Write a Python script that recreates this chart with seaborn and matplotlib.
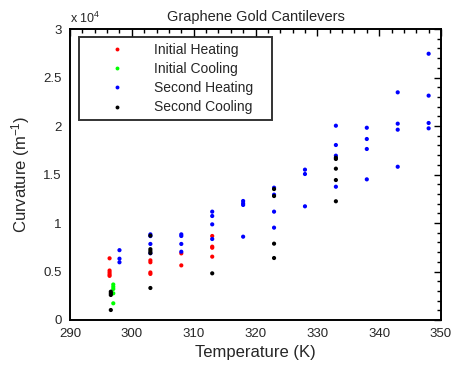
import numpy as np
import pandas as pd
import matplotlib
matplotlib.use("Agg")
import matplotlib.pyplot as plt
from matplotlib.lines import Line2D
from matplotlib.ticker import MultipleLocator, FuncFormatter
import seaborn as sns

# ---- data (curvature in m^-1) ----
series_names = ["Initial Heating", "Initial Cooling", "Second Heating", "Second Cooling"]
series_colors = ["#ff0000", "#00ff00", "#0000ff", "#000000"]

ih_temp = [296.4] * 5 + [303] * 4 + [308] * 2 + [313] * 4
ih_curv = [6360, 5100, 4900, 4700, 4550,
           6150, 5950, 4900, 4750,
           6870, 5630,
           8660, 7560, 7450, 6530]

ic_temp = [297] * 5
ic_curv = [3660, 3420, 3200, 2750, 1720]

sh_temp = ([298] * 3 + [303] * 4 + [308] * 4 + [313] * 4 + [318] * 4 + [323] * 4
           + [328] * 3 + [333] * 4 + [338] * 4 + [343] * 4 + [348] * 4)
sh_curv = [7200, 6320, 5950,
           8830, 8650, 7840, 6880,
           8830, 8660, 7840, 7040,
           11170, 10720, 9860, 8350,
           12270, 12030, 11860, 8590,
           13640, 12920, 11170, 9520,
           15500, 15050, 11720,
           20030, 18040, 16940, 13740,
           19820, 18660, 17630, 14500,
           23470, 20240, 19620, 15800,
           27450, 23130, 20310, 19760]

sc_temp = [296.6] * 4 + [303] * 5 + [313] + [323] * 4 + [333] * 5
sc_curv = [2920, 2750, 2580, 1030,
           8700, 7300, 7100, 6900, 3300,
           4810,
           13500, 12780, 7870, 6390,
           16730, 16600, 15600, 14430, 12240]

x_ticks = [290, 300, 310, 320, 330, 340, 350]
y_ticks = [0, 5000, 10000, 15000, 20000, 25000, 30000]

frames = []
for name, t, c in zip(series_names,
                      [ih_temp, ic_temp, sh_temp, sc_temp],
                      [ih_curv, ic_curv, sh_curv, sc_curv]):
    frames.append(pd.DataFrame({"Temperature": t, "Curvature": c, "Series": name}))
df = pd.concat(frames, ignore_index=True)

sns.set_style("white")
plt.rcParams["font.family"] = ["Liberation Sans", "DejaVu Sans"]
plt.rcParams["mathtext.fontset"] = "custom"
plt.rcParams["mathtext.rm"] = "Liberation Sans"
plt.rcParams["mathtext.it"] = "Liberation Sans:italic"
plt.rcParams["mathtext.bf"] = "Liberation Sans:bold"

fig = plt.figure(figsize=(4.53, 3.75), dpi=100)
ax = fig.add_axes([70 / 453, 1 - 320 / 375, 371 / 453, 291 / 375])

palette = dict(zip(series_names, series_colors))
sns.scatterplot(data=df, x="Temperature", y="Curvature", hue="Series",
                hue_order=series_names, palette=palette, s=9,
                edgecolor="none", linewidth=0, legend=False, ax=ax)

ax.set_xlim(290, 350)
ax.set_ylim(0, 30000)
ax.set_xticks(x_ticks)
ax.set_yticks(y_ticks)
ax.xaxis.set_minor_locator(MultipleLocator(2))
ax.yaxis.set_minor_locator(MultipleLocator(1000))
ax.yaxis.set_major_formatter(FuncFormatter(lambda v, p: "%g" % (v / 1e4)))

ax.tick_params(which="both", direction="in", top=True, right=True,
               color="black", labelsize=9.5, width=1.0)
ax.tick_params(which="major", length=5, pad=6)
ax.tick_params(which="minor", length=3)
for s in ax.spines.values():
    s.set_color("black")
    s.set_linewidth(1.4)

ax.set_xlabel("Temperature (K)", fontsize=12, labelpad=3)
ax.set_ylabel("Curvature (m$^{-1}$)", fontsize=12, labelpad=8)
ax.set_title("Graphene Gold Cantilevers", fontsize=10.5, pad=6)
ax.text(0.0, 1.012, "x 10$^{4}$", transform=ax.transAxes, fontsize=9,
        ha="left", va="bottom")

handles = [Line2D([0], [0], marker="o", linestyle="none", markersize=2.8,
                  markerfacecolor=c, markeredgecolor="none") for c in series_colors]
leg = ax.legend(handles, series_names, loc="upper left",
                bbox_to_anchor=(9 / 371, 1 - 8 / 291 - 0.3, 193 / 371, 0.3),
                mode="expand", borderaxespad=0,
                fontsize=10, frameon=True, fancybox=False, handlelength=4.6,
                handletextpad=0.4, borderpad=0.4, labelspacing=0.38)
leg.get_frame().set_edgecolor("black")
leg.get_frame().set_linewidth(1.4)

fig.savefig("out.png", dpi=100, facecolor="white")
